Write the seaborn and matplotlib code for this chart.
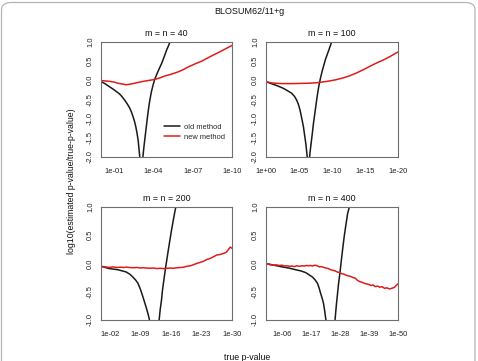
"""
BLOSUM62/11+g : accuracy of p-value estimates, old vs new method
Four panels (m = n = 40, 100, 200, 400), reversed log x axis.
"""

import numpy as np
import matplotlib
matplotlib.use("Agg")
import matplotlib.pyplot as plt
import seaborn as sns
from matplotlib.lines import Line2D
from matplotlib.patches import FancyBboxPatch
from matplotlib.ticker import FixedLocator, FuncFormatter


# ---------------------------
# data: x values are -log10(true p-value), y is log10(estimated/true)
# ---------------------------
titles = ["m = n = 40", "m = n = 100", "m = n = 200", "m = n = 400"]
x_max_exp = [10, 20, 30, 50]
x_tick_exp = [[1, 4, 7, 10], [0, 5, 10, 15, 20], [2, 9, 16, 23, 30], [6, 17, 28, 39, 50]]
y_limits = [(-2.0, 1.0), (-2.0, 1.0), (-1.0, 1.0), (-1.0, 1.0)]

# m = n = 40
old40_left_u = [0.0, 0.25, 0.51, 0.77, 1.03, 1.22, 1.41, 1.6, 1.8, 2.0, 2.19, 2.32, 2.44, 2.55, 2.65, 2.74, 2.83, 2.88, 2.93, 2.97]
old40_left_y = [-0.04, -0.08, -0.14, -0.2, -0.26, -0.31, -0.36, -0.43, -0.52, -0.62, -0.73, -0.83, -0.95, -1.07, -1.21, -1.37, -1.56, -1.73, -1.91, -2.05]
old40_right_u = [3.19, 3.26, 3.34, 3.43, 3.52, 3.62, 3.73, 3.85, 3.98, 4.1, 4.24, 4.43, 4.63, 4.82, 5.01, 5.15, 5.3]
old40_right_y = [-2.05, -1.8, -1.56, -1.3, -1.04, -0.77, -0.52, -0.3, -0.12, 0.02, 0.14, 0.29, 0.44, 0.61, 0.79, 0.9, 1.03]
new40_u = [0.0, 0.64, 1.0, 1.29, 1.6, 1.93, 2.31, 2.7, 3.08, 3.6, 4.11, 4.5, 4.88, 5.4, 5.91, 6.3, 6.68, 7.2, 7.7, 8.35, 9.0, 9.5, 10.0]
new40_y = [-0.01, -0.03, -0.05, -0.08, -0.1, -0.12, -0.1, -0.07, -0.04, -0.01, 0.02, 0.06, 0.11, 0.16, 0.22, 0.28, 0.35, 0.43, 0.5, 0.62, 0.73, 0.82, 0.91]

# m = n = 100
old100_left_u = [0.0, 0.6, 1.29, 1.9, 2.58, 3.2, 3.87, 4.3, 4.64, 4.9, 5.15, 5.42, 5.67, 5.85, 6.03, 6.15, 6.3]
old100_left_y = [-0.035, -0.08, -0.12, -0.16, -0.21, -0.27, -0.34, -0.42, -0.52, -0.63, -0.78, -1.0, -1.22, -1.44, -1.66, -1.85, -2.1]
old100_right_u = [6.55, 6.7, 6.96, 7.2, 7.47, 7.73, 7.99, 8.25, 8.5, 9.0, 9.54, 10.05]
old100_right_y = [-2.1, -1.85, -1.48, -1.12, -0.78, -0.45, -0.17, 0.05, 0.23, 0.54, 0.8, 1.05]
new100_u = [0.0, 0.6, 1.29, 2.5, 3.87, 5.2, 6.44, 7.5, 8.5, 9.5, 10.57, 11.6, 12.6, 13.6, 14.7, 15.7, 16.75, 17.8, 18.8, 20.0]
new100_y = [-0.035, -0.065, -0.08, -0.09, -0.09, -0.085, -0.08, -0.07, -0.05, -0.025, 0.01, 0.055, 0.11, 0.18, 0.27, 0.36, 0.45, 0.53, 0.62, 0.74]

# m = n = 200
old200_left_u = [0.0, 1.92, 3.85, 5.77, 6.6, 7.3, 7.9, 8.46, 9.0, 9.6, 10.0, 10.4, 10.8, 11.25]
old200_left_y = [-0.05, -0.09, -0.11, -0.15, -0.19, -0.24, -0.29, -0.35, -0.45, -0.59, -0.69, -0.79, -0.9, -1.05]
old200_right_u = [13.25, 13.55, 13.85, 14.1, 14.4, 14.7, 15.0, 15.4, 15.77, 16.15, 16.54, 16.85, 17.25]
old200_right_y = [-1.05, -0.82, -0.65, -0.46, -0.29, -0.12, 0.03, 0.23, 0.41, 0.59, 0.76, 0.89, 1.05]
new200_u = [0.0, 1.0, 2.0, 2.7, 3.6, 4.5, 5.2, 5.77, 6.5, 7.4, 8.3, 9.0, 9.6, 10.4, 11.3, 12.0, 12.8, 13.5, 14.3, 15.2, 16.0, 16.5, 17.4, 18.3, 19.0, 19.6, 20.5, 21.2, 21.9, 22.7, 23.5, 24.2, 25.0, 25.8, 26.5, 27.3, 28.1, 28.7, 29.2, 29.6, 30.0]
new200_y = [-0.05, -0.06, -0.07, -0.06, -0.07, -0.065, -0.07, -0.065, -0.07, -0.075, -0.07, -0.08, -0.075, -0.08, -0.085, -0.08, -0.09, -0.085, -0.09, -0.085, -0.08, -0.085, -0.075, -0.07, -0.065, -0.05, -0.04, -0.02, 0.0, 0.02, 0.04, 0.07, 0.09, 0.12, 0.15, 0.16, 0.18, 0.2, 0.25, 0.29, 0.27]

# m = n = 400
old400_left_u = [0.0, 3.0, 6.1, 8.6, 11.2, 13.1, 15.0, 16.3, 17.6, 18.6, 19.5, 20.1, 20.7, 21.3, 21.8, 22.2, 22.6, 22.9]
old400_left_y = [0.0, -0.03, -0.06, -0.08, -0.11, -0.13, -0.16, -0.2, -0.24, -0.29, -0.35, -0.43, -0.53, -0.62, -0.71, -0.83, -0.97, -1.05]
old400_right_u = [26.1, 26.2, 26.45, 26.7, 27.1, 27.5, 28.0, 28.4, 29.0, 29.6, 30.25, 30.9, 31.4, 31.7]
old400_right_y = [-1.05, -0.97, -0.84, -0.71, -0.53, -0.35, -0.17, 0.0, 0.24, 0.47, 0.68, 0.88, 0.97, 1.03]
new400_u = [0.0, 1.4, 2.8, 4.0, 5.0, 6.1, 7.0, 8.0, 9.0, 9.9, 10.8, 11.7, 12.5, 13.7, 14.5, 15.3, 16.0, 16.8, 17.6, 18.5, 19.4, 20.2, 21.0, 21.9, 22.7, 23.6, 24.5, 25.3, 26.1, 27.0, 27.8, 28.7, 29.6, 30.4, 31.3, 32.1, 33.0, 33.8, 34.7, 35.5, 36.3, 37.2, 38.0, 38.9, 39.8, 40.6, 41.4, 42.3, 43.1, 44.0, 44.9, 45.7, 46.8, 47.6, 48.2, 48.7, 49.3, 50.0]
new400_y = [0.0, -0.02, -0.03, -0.025, -0.035, -0.03, -0.045, -0.04, -0.05, -0.045, -0.055, -0.04, -0.05, -0.04, -0.045, -0.035, -0.04, -0.035, -0.045, -0.03, -0.04, -0.06, -0.055, -0.07, -0.08, -0.09, -0.11, -0.12, -0.13, -0.15, -0.16, -0.18, -0.19, -0.21, -0.22, -0.23, -0.25, -0.26, -0.3, -0.32, -0.33, -0.35, -0.36, -0.37, -0.39, -0.38, -0.41, -0.4, -0.42, -0.41, -0.44, -0.43, -0.45, -0.44, -0.43, -0.42, -0.39, -0.36]

old_series = [
    [(old40_left_u, old40_left_y), (old40_right_u, old40_right_y)],
    [(old100_left_u, old100_left_y), (old100_right_u, old100_right_y)],
    [(old200_left_u, old200_left_y), (old200_right_u, old200_right_y)],
    [(old400_left_u, old400_left_y), (old400_right_u, old400_right_y)],
]
new_series = [(new40_u, new40_y), (new100_u, new100_y), (new200_u, new200_y), (new400_u, new400_y)]

OLD_COLOR = "#1a1a1a"
NEW_COLOR = "#dd1c1c"
BOX_COLOR = "#6e6e6e"

W, H = 478, 361


def frac_x(px):
    return px / W


def frac_y(py):
    return 1 - py / H


def exp_label(v, pos):
    return f"{v:.0e}"


def style_axis(ax, i):
    ax.set_xscale("log")
    ax.set_xlim(1.0, 10.0 ** (-x_max_exp[i]))
    ax.set_ylim(*y_limits[i])

    ax.xaxis.set_major_locator(FixedLocator([10.0 ** (-e) for e in x_tick_exp[i]]))
    ax.xaxis.set_minor_locator(FixedLocator([]))
    ax.xaxis.set_major_formatter(FuncFormatter(exp_label))

    lo, hi = y_limits[i]
    ax.set_yticks(np.arange(lo, hi + 0.01, 0.5))
    ax.yaxis.set_major_formatter(FuncFormatter(lambda v, p: f"{v:.1f}"))

    for s in ax.spines.values():
        s.set_visible(True)
        s.set_color(BOX_COLOR)
        s.set_linewidth(0.8)

    ax.tick_params(axis="both", direction="out", length=2.5, width=0.6,
                   color=BOX_COLOR, labelsize=5.4, labelcolor="#222222")
    ax.tick_params(axis="x", pad=5.5)
    ax.tick_params(axis="y", pad=2.5)
    for lab in ax.get_yticklabels():
        lab.set_rotation(90)
        lab.set_va("center")

    ax.set_xlabel("")
    ax.set_ylabel("")
    ax.set_title(titles[i], fontsize=6.4, pad=4, color="#111111")
    ax.grid(False)


def main():
    sns.set_theme(style="white")
    plt.rcParams["font.family"] = ["Liberation Sans", "DejaVu Sans"]

    fig = plt.figure(figsize=(W / 100, H / 100), dpi=100)
    fig.patch.set_facecolor("white")

    # rounded frame around the whole figure
    frame = FancyBboxPatch((frac_x(1.5), frac_y(380)), frac_x(475) - frac_x(1.5), frac_y(2.5) - frac_y(380),
                           boxstyle="round,pad=0,rounding_size=0.02",
                           transform=fig.transFigure, fill=False,
                           edgecolor="#b5b5b5", linewidth=0.9)
    fig.patches.append(frame)

    boxes = [
        (101, 232, 42, 156.5),
        (266, 398, 42, 156.5),
        (101, 232, 207, 320),
        (266, 398, 207, 320),
    ]

    axes = []
    for (l, r, t, b) in boxes:
        ax = fig.add_axes([frac_x(l), frac_y(b), frac_x(r) - frac_x(l), frac_y(t) - frac_y(b)])
        axes.append(ax)

    for i, ax in enumerate(axes):
        for (u, y) in old_series[i]:
            p = 10.0 ** (-np.asarray(u))
            sns.lineplot(x=p, y=y, ax=ax, color=OLD_COLOR, linewidth=1.1,
                         sort=False, estimator=None)
        u, y = new_series[i]
        p = 10.0 ** (-np.asarray(u))
        sns.lineplot(x=p, y=y, ax=ax, color=NEW_COLOR, linewidth=1.1,
                     sort=False, estimator=None)
        style_axis(ax, i)

    handles = [Line2D([], [], color=OLD_COLOR, lw=1.1),
               Line2D([], [], color=NEW_COLOR, lw=1.1)]
    axes[0].legend(handles, ["old method", "new method"], loc="lower left",
                   bbox_to_anchor=(0.43, 0.08), frameon=False, fontsize=5.4,
                   handlelength=2.1, handletextpad=0.6, labelspacing=0.3)

    fig.text(frac_x(249.5), frac_y(12), "BLOSUM62/11+g", ha="center", va="center",
             fontsize=6.5, color="#111111")
    fig.text(frac_x(247), frac_y(357.5), "true p-value", ha="center", va="center",
             fontsize=6.3, color="#111111")
    fig.text(frac_x(72), frac_y(181), "log10(estimated p-value/true-p-value)",
             ha="center", va="center", rotation=90, fontsize=6.3, color="#111111")

    fig.savefig("out.png", dpi=100)
    plt.close(fig)


if __name__ == "__main__":
    main()
